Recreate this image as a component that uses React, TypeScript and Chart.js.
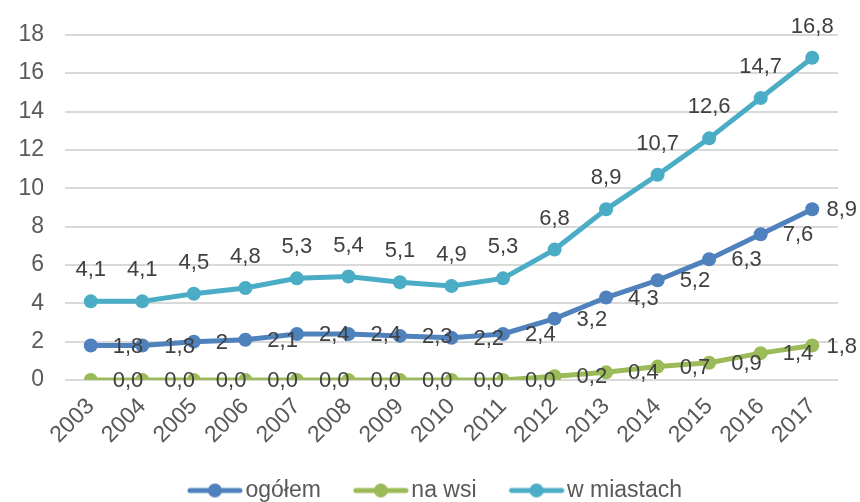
import React, { useEffect, useRef } from "react";
import { Chart, registerables } from "chart.js";

Chart.register(...registerables);

// ---- data ----
const years = ["2003", "2004", "2005", "2006", "2007", "2008", "2009", "2010", "2011", "2012", "2013", "2014", "2015", "2016", "2017"];
const ogolem = [1.8, 1.8, 2, 2.1, 2.4, 2.4, 2.3, 2.2, 2.4, 3.2, 4.3, 5.2, 6.3, 7.6, 8.9];
const naWsi = [0, 0, 0, 0, 0, 0, 0, 0, 0, 0.2, 0.4, 0.7, 0.9, 1.4, 1.8];
const wMiastach = [4.1, 4.1, 4.5, 4.8, 5.3, 5.4, 5.1, 4.9, 5.3, 6.8, 8.9, 10.7, 12.6, 14.7, 16.8];
const seriesNames = ["ogółem", "na wsi", "w miastach"];
const yMin = 0;
const yMax = 18;
const yStep = 2;

const FONT = "'Liberation Sans', Arial, sans-serif";
const colors = ["#4F81BD", "#9BBB59", "#4BACC6"];

const fmtGeneral = (v: number) => String(v).replace(".", ",");
const fmtOne = (v: number) => v.toFixed(1).replace(".", ",");
const formatters = [fmtGeneral, fmtOne, fmtOne];
const labelPos = ["right", "right", "top"];

// legend marker: transparent left part, then line with a dot
function legendImage(color: string): HTMLCanvasElement {
  const c = document.createElement("canvas");
  c.width = 96;
  c.height = 16;
  const g = c.getContext("2d")!;
  g.strokeStyle = color;
  g.lineWidth = 5;
  g.lineCap = "round";
  g.beginPath();
  g.moveTo(43, 8);
  g.lineTo(93, 8);
  g.stroke();
  g.fillStyle = color;
  g.beginPath();
  g.arc(68, 8, 7, 0, Math.PI * 2);
  g.fill();
  return c;
}

const valueLabels = {
  id: "valueLabels",
  afterDatasetsDraw(chart: any) {
    const ctx = chart.ctx;
    ctx.save();
    ctx.font = `22px ${FONT}`;
    ctx.fillStyle = "#404040";
    const maxRight = chart.width - 3;
    chart.data.datasets.forEach((ds: any, di: number) => {
      const meta = chart.getDatasetMeta(di);
      meta.data.forEach((pt: any, i: number) => {
        const txt = formatters[di](ds.data[i]);
        ctx.textBaseline = "middle";
        if (labelPos[di] === "right") {
          ctx.textAlign = "left";
          const w = ctx.measureText(txt).width;
          const x = Math.min(pt.x + 22, maxRight - w);
          ctx.fillText(txt, x, pt.y + 1);
        } else {
          ctx.textAlign = "center";
          ctx.fillText(txt, pt.x, pt.y - 31);
        }
      });
    });
    ctx.restore();
  },
};

export default function App() {
  const ref = useRef<HTMLCanvasElement>(null);
  useEffect(() => {
    const values = [ogolem, naWsi, wMiastach];
    const chart = new Chart(ref.current!, {
      type: "line",
      data: {
        labels: years,
        datasets: values.map((d, i) => ({
          label: seriesNames[i],
          data: d,
          borderColor: colors[i],
          backgroundColor: colors[i],
          borderWidth: 5,
          pointRadius: 7,
          pointBorderWidth: 0,
          pointBackgroundColor: colors[i],
          pointStyle: "circle",
          tension: 0,
          fill: false,
        })),
      },
      options: {
        responsive: false,
        animation: false,
        layout: { padding: { top: 31, right: 22, bottom: -10, left: 0 } },
        plugins: {
          tooltip: { enabled: false },
          legend: {
            position: "bottom",
            labels: {
              usePointStyle: true,
              pointStyleWidth: 78,
              padding: 1,
              color: "#595959",
              font: { size: 23, family: FONT },
              generateLabels: (chart: any) =>
                chart.data.datasets.map((ds: any, i: number) => ({
                  text: ds.label,
                  fillStyle: colors[i],
                  strokeStyle: colors[i],
                  lineWidth: 0,
                  pointStyle: legendImage(colors[i]),
                  hidden: false,
                  datasetIndex: i,
                  fontColor: "#595959",
                })),
            },
          },
        },
        scales: {
          x: {
            offset: true,
            grid: { display: false, drawTicks: false },
            border: { display: false },
            ticks: {
              color: "#595959",
              font: { size: 23, family: FONT },
              minRotation: 45,
              maxRotation: 45,
              padding: 13,
              autoSkip: false,
            },
            afterFit: (s: any) => {
              s.height = 98;
            },
          },
          y: {
            min: yMin,
            max: yMax,
            grid: { color: "#D9D9D9", lineWidth: 2, drawTicks: false },
            border: { display: false },
            ticks: {
              stepSize: yStep,
              color: "#595959",
              font: { size: 23, family: FONT },
              padding: 21,
            },
            afterFit: (s: any) => {
              s.width = 65;
            },
          },
        },
      },
      plugins: [valueLabels],
    } as any);
    return () => chart.destroy();
  }, []);
  return (
    <div style={{ position: "absolute", left: 0, top: 0, width: 860, height: 502, background: "#fff" }}>
      <canvas ref={ref} width={860} height={502} style={{ display: "block" }} />
    </div>
  );
}
